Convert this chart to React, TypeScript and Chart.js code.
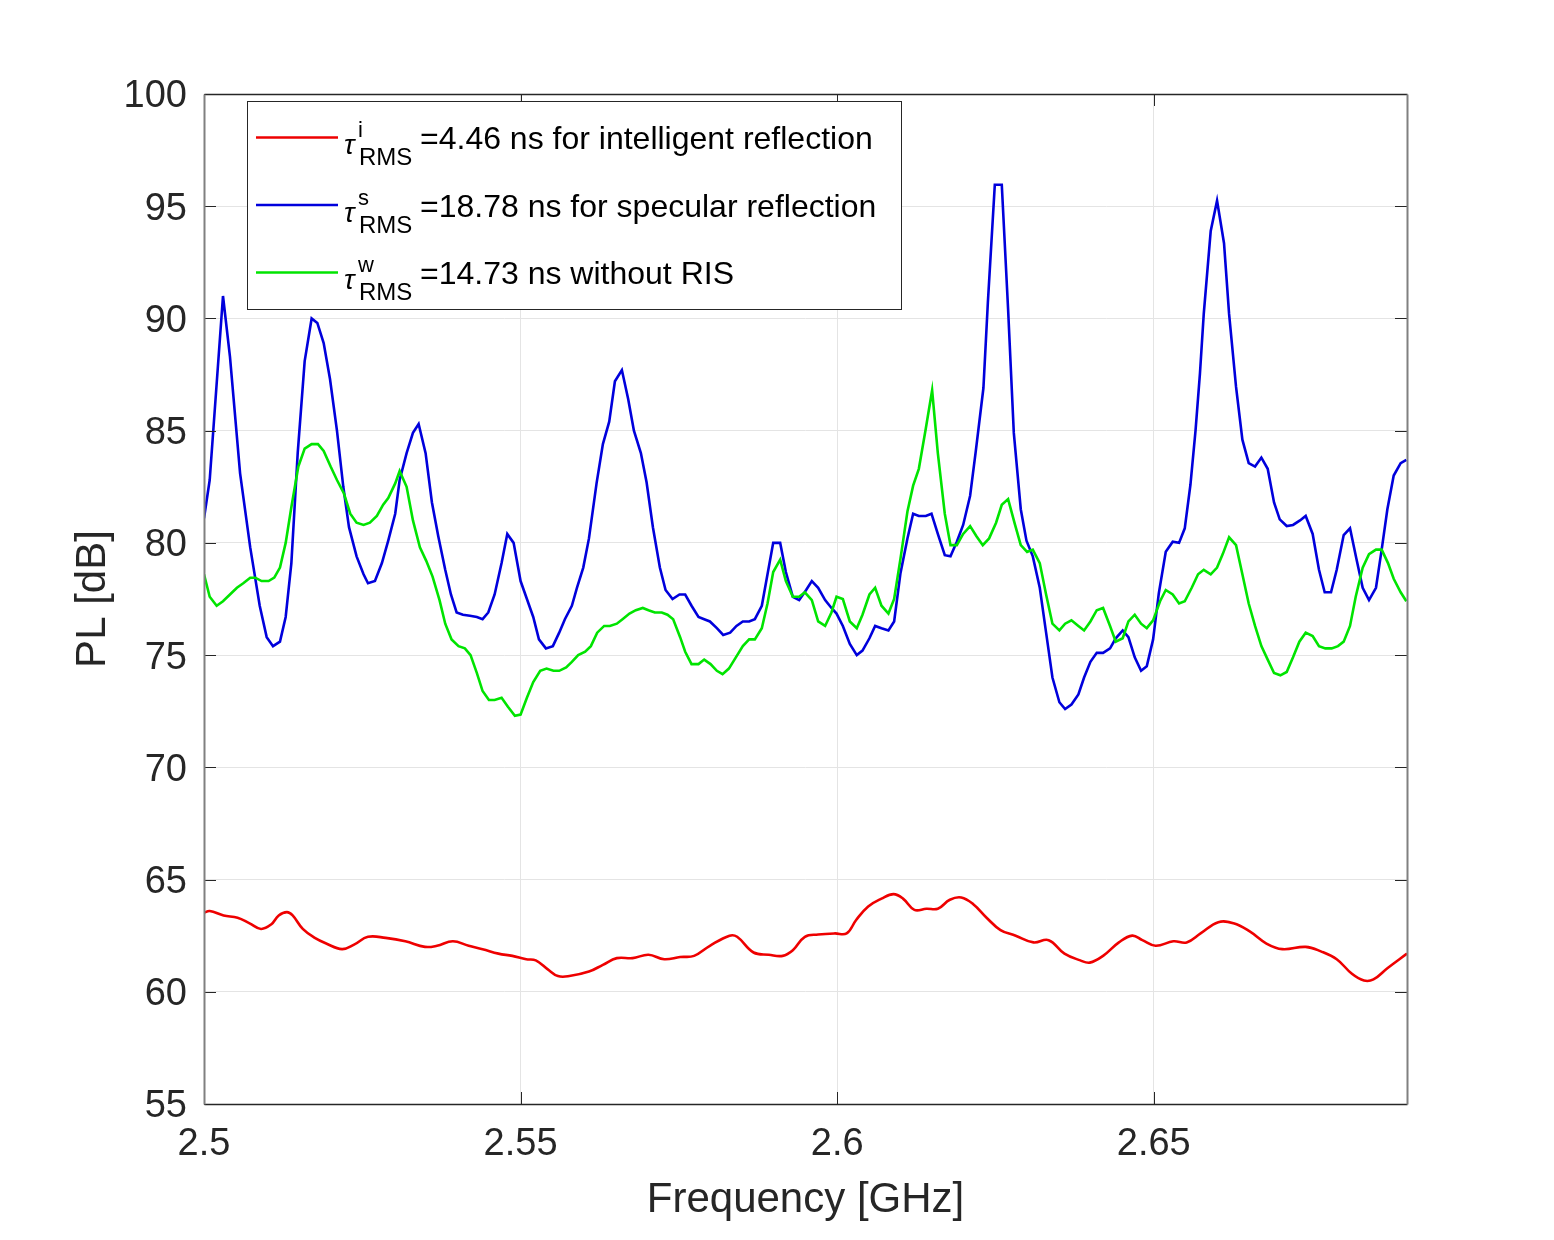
import React, { useEffect, useRef } from 'react';
import { Chart, registerables } from 'chart.js';

Chart.register(...registerables);

// ---------------- data ----------------
const xTickValues = [2.5, 2.55, 2.6, 2.65];
const xTickLabels = ['2.5', '2.55', '2.6', '2.65'];
const yTickValues = [55, 60, 65, 70, 75, 80, 85, 90, 95, 100];
const yTickLabels = ['55', '60', '65', '70', '75', '80', '85', '90', '95', '100'];

const seriesColors = ['#ee0000', '#0000dc', '#00e400'];
const legendSup = ['i', 's', 'w'];
const legendSub = 'RMS';
const legendText = [
  '=4.46 ns for intelligent reflection',
  '=18.78 ns for specular reflection',
  '=14.73 ns without RIS',
];

// intelligent reflection (red)
const redFreq = [
  2.5, 2.5009, 2.5031, 2.5053, 2.5072, 2.509, 2.5106, 2.5118, 2.5131, 2.514, 2.5156, 2.5175, 2.5193,
  2.5218, 2.5237, 2.5259, 2.5287, 2.5318, 2.5349, 2.5368, 2.5393, 2.5418, 2.544, 2.5465, 2.5487,
  2.5509, 2.5524, 2.5543, 2.5559, 2.5577, 2.5608, 2.563, 2.5652, 2.5677, 2.5702, 2.5727, 2.5752,
  2.5774, 2.5799, 2.583, 2.5842, 2.5868, 2.5892, 2.5914, 2.593, 2.5949, 2.597, 2.5996, 2.6015,
  2.603, 2.6049, 2.607, 2.6089, 2.6104, 2.6122, 2.6141, 2.6159, 2.6178, 2.6196, 2.6215, 2.6236,
  2.6258, 2.6282, 2.631, 2.6334, 2.6359, 2.6384, 2.6399, 2.642, 2.6445, 2.6466, 2.6482, 2.6503,
  2.6531, 2.6552, 2.6574, 2.6602, 2.6626, 2.6651, 2.6678, 2.6703, 2.674, 2.6764, 2.6789, 2.6813,
  2.6832, 2.6847, 2.6869, 2.69,
];
const redPL = [
  63.52, 63.6, 63.4, 63.3, 63.05, 62.8, 63.0, 63.4, 63.55, 63.4, 62.8, 62.4, 62.15,
  61.9, 62.1, 62.45, 62.4, 62.25, 62.0, 62.05, 62.25, 62.05, 61.9, 61.7, 61.6,
  61.45, 61.4, 61.0, 60.7, 60.7, 60.9, 61.2, 61.5, 61.5, 61.65, 61.45, 61.55,
  61.6, 62.05, 62.5, 62.45, 61.75, 61.65, 61.6, 61.85, 62.45, 62.55, 62.6, 62.6,
  63.2, 63.8, 64.15, 64.35, 64.15, 63.65, 63.7, 63.7, 64.1, 64.2, 63.9, 63.3,
  62.75, 62.5, 62.2, 62.3, 61.7, 61.4, 61.3, 61.6, 62.2, 62.5, 62.3, 62.05,
  62.25, 62.2, 62.6, 63.1, 63.05, 62.7, 62.15, 61.9, 62.0, 61.8, 61.45, 60.8,
  60.5, 60.55, 61.05, 61.7,
];

// specular reflection (blue)
const blueFreq = [
  2.5, 2.5009, 2.503, 2.5041, 2.5057, 2.5073, 2.5088, 2.5099, 2.5109, 2.512, 2.5129, 2.5138, 2.5148,
  2.5159, 2.517, 2.5179, 2.5189, 2.5199, 2.521, 2.522, 2.5229, 2.5241, 2.5252, 2.5259, 2.527, 2.5281,
  2.5291, 2.5302, 2.5309, 2.532, 2.533, 2.5339, 2.535, 2.536, 2.537, 2.5381, 2.539, 2.5399, 2.5409,
  2.542, 2.5431, 2.544, 2.5449, 2.5459, 2.547, 2.5479, 2.5489, 2.55, 2.551, 2.552, 2.5529, 2.554,
  2.5551, 2.5561, 2.557, 2.5581, 2.5589, 2.5599, 2.5608, 2.562, 2.563, 2.564, 2.5649, 2.566, 2.567,
  2.5679, 2.569, 2.5699, 2.5709, 2.572, 2.5729, 2.574, 2.5751, 2.576, 2.577, 2.5781, 2.579, 2.5799,
  2.581, 2.582, 2.5831, 2.5841, 2.5851, 2.5861, 2.587, 2.5881, 2.589, 2.5899, 2.591, 2.5919, 2.593,
  2.594, 2.5951, 2.596, 2.597, 2.5981, 2.5991, 2.5999, 2.6009, 2.602, 2.6031, 2.604, 2.6051, 2.606,
  2.607, 2.6081, 2.609, 2.61, 2.6111, 2.612, 2.6129, 2.614, 2.6149, 2.6159, 2.617, 2.6179, 2.6189,
  2.6199, 2.621, 2.6219, 2.6231, 2.6238, 2.6249, 2.626, 2.627, 2.6279, 2.629, 2.6299, 2.6309, 2.632,
  2.633, 2.634, 2.6351, 2.636, 2.637, 2.6381, 2.639, 2.64, 2.641, 2.642, 2.6431, 2.644, 2.6451,
  2.646, 2.647, 2.648, 2.6489, 2.6499, 2.6508, 2.6519, 2.653, 2.654, 2.6549, 2.6558, 2.6566, 2.6573,
  2.6579, 2.659, 2.66, 2.6611, 2.6619, 2.663, 2.664, 2.665, 2.666, 2.667, 2.668, 2.669, 2.6699,
  2.671, 2.672, 2.6731, 2.674, 2.6751, 2.6761, 2.677, 2.678, 2.6789, 2.68, 2.681, 2.682, 2.683,
  2.684, 2.6851, 2.686, 2.6869, 2.6879, 2.689, 2.6899,
];
const bluePL = [
  81.1, 82.8, 91.0, 88.3, 83.1, 79.8, 77.2, 75.8, 75.4, 75.6, 76.7, 79.1, 84.0,
  88.1, 90.0, 89.8, 88.9, 87.3, 85.0, 82.5, 80.7, 79.4, 78.6, 78.2, 78.3, 79.1,
  80.1, 81.3, 82.8, 84.0, 84.9, 85.3, 84.0, 81.8, 80.3, 78.8, 77.7, 76.9, 76.8,
  76.75, 76.7, 76.6, 76.9, 77.7, 79.1, 80.4, 80.0, 78.3, 77.5, 76.7, 75.7, 75.3,
  75.4, 76.0, 76.6, 77.2, 78.0, 78.9, 80.2, 82.65, 84.4, 85.4, 87.2, 87.7, 86.4,
  85.0, 84.0, 82.7, 80.7, 78.9, 77.9, 77.5, 77.7, 77.7, 77.2, 76.7, 76.6, 76.5,
  76.2, 75.9, 76.0, 76.3, 76.5, 76.5, 76.6, 77.2, 78.6, 80.0, 80.0, 78.7, 77.6,
  77.45, 77.9, 78.3, 78.0, 77.45, 77.1, 76.85, 76.3, 75.5, 75.0, 75.2, 75.75, 76.3,
  76.2, 76.1, 76.5, 78.65, 80.2, 81.3, 81.2, 81.2, 81.3, 80.4, 79.45, 79.4, 80.05,
  80.8, 82.1, 84.1, 86.9, 90.7, 95.96, 95.96, 90.4, 84.9, 81.5, 80.1, 79.4, 78.0,
  76.0, 74.0, 72.9, 72.6, 72.8, 73.25, 74.0, 74.7, 75.1, 75.1, 75.3, 75.75, 76.1,
  75.8, 74.9, 74.3, 74.5, 75.7, 77.75, 79.6, 80.05, 80.0, 80.65, 82.6, 85.0, 87.55,
  90.2, 93.9, 95.25, 93.35, 90.2, 86.95, 84.6, 83.55, 83.4, 83.8, 83.3, 81.8, 81.05,
  80.75, 80.8, 81.0, 81.2, 80.4, 78.8, 77.8, 77.8, 78.8, 80.35, 80.65, 79.3, 78.0,
  77.45, 78.0, 79.7, 81.5, 83.0, 83.55, 83.7,
];

// without RIS (green)
const greenFreq = [
  2.5, 2.5009, 2.502, 2.503, 2.5041, 2.5052, 2.5062, 2.5073, 2.5081, 2.5091, 2.5102, 2.5111, 2.512,
  2.5129, 2.5138, 2.5149, 2.5159, 2.517, 2.518, 2.5189, 2.52, 2.521, 2.5221, 2.5231, 2.5241, 2.5252,
  2.5262, 2.5273, 2.5283, 2.5291, 2.5302, 2.5309, 2.532, 2.533, 2.5341, 2.5351, 2.5361, 2.5372,
  2.5381, 2.5391, 2.5402, 2.5412, 2.5421, 2.5431, 2.544, 2.545, 2.5459, 2.547, 2.548, 2.5491, 2.55,
  2.551, 2.552, 2.5531, 2.5541, 2.5552, 2.5561, 2.5572, 2.5581, 2.5591, 2.5602, 2.5611, 2.5621,
  2.5632, 2.5641, 2.5652, 2.5661, 2.5672, 2.5682, 2.5693, 2.5702, 2.5712, 2.5723, 2.5732, 2.5741,
  2.5752, 2.576, 2.577, 2.5781, 2.579, 2.58, 2.581, 2.5819, 2.5829, 2.584, 2.5851, 2.5861, 2.587,
  2.5881, 2.589, 2.5899, 2.591, 2.5919, 2.593, 2.594, 2.5949, 2.596, 2.597, 2.5981, 2.5991, 2.5999,
  2.6009, 2.602, 2.6031, 2.604, 2.6051, 2.606, 2.607, 2.6081, 2.609, 2.61, 2.6111, 2.612, 2.6129,
  2.614, 2.615, 2.6159, 2.617, 2.6179, 2.6189, 2.6199, 2.621, 2.622, 2.623, 2.624, 2.6251, 2.626,
  2.627, 2.6281, 2.629, 2.63, 2.6309, 2.632, 2.633, 2.634, 2.6351, 2.636, 2.637, 2.6381, 2.639,
  2.64, 2.641, 2.642, 2.6431, 2.644, 2.6451, 2.646, 2.647, 2.648, 2.6489, 2.6499, 2.651, 2.6519,
  2.653, 2.654, 2.6549, 2.656, 2.657, 2.6579, 2.659, 2.66, 2.6609, 2.6619, 2.663, 2.664, 2.665,
  2.666, 2.667, 2.668, 2.669, 2.67, 2.671, 2.672, 2.673, 2.674, 2.6751, 2.6761, 2.6771, 2.6781,
  2.6791, 2.68, 2.681, 2.6819, 2.683, 2.684, 2.6851, 2.686, 2.687, 2.6879, 2.689, 2.6899,
];
const greenPL = [
  78.6, 77.6, 77.2, 77.4, 77.7, 78.0, 78.2, 78.45, 78.45, 78.3, 78.3, 78.45, 78.9,
  80.0, 81.6, 83.4, 84.2, 84.4, 84.4, 84.1, 83.4, 82.8, 82.2, 81.3, 80.9, 80.8,
  80.9, 81.2, 81.7, 82.0, 82.65, 83.2, 82.5, 81.0, 79.8, 79.2, 78.5, 77.45,
  76.4, 75.7, 75.4, 75.3, 75.0, 74.2, 73.4, 73.0, 73.0, 73.1, 72.7, 72.3, 72.35,
  73.1, 73.8, 74.3, 74.4, 74.3, 74.3, 74.45, 74.7, 75.0, 75.15, 75.4, 76.0,
  76.3, 76.3, 76.4, 76.6, 76.85, 77.0, 77.1, 77.0, 76.9, 76.9, 76.8, 76.6,
  75.8, 75.15, 74.6, 74.6, 74.8, 74.6, 74.3, 74.15, 74.4, 74.9, 75.4, 75.7, 75.7,
  76.2, 77.3, 78.7, 79.25, 78.3, 77.6, 77.6, 77.8, 77.45, 76.5, 76.3, 76.9, 77.6,
  77.5, 76.5, 76.2, 76.8, 77.7, 78.0, 77.2, 76.85, 77.5, 79.3, 81.4, 82.55, 83.3,
  85.1, 86.8, 84.0, 81.3, 79.9, 79.9, 80.4, 80.75, 80.3, 79.9, 80.2, 80.9, 81.7,
  81.95, 80.8, 79.9, 79.6, 79.7, 79.1, 77.7, 76.4, 76.1, 76.4, 76.55, 76.3, 76.1,
  76.5, 77.0, 77.1, 76.3, 75.6, 75.75, 76.5, 76.8, 76.4, 76.2, 76.55, 77.4, 77.9,
  77.7, 77.3, 77.4, 78.0, 78.6, 78.8, 78.6, 78.9, 79.5, 80.25, 79.9, 78.6, 77.3,
  76.3, 75.4, 74.8, 74.2, 74.1, 74.25, 74.9, 75.6, 76.0, 75.85, 75.4, 75.3, 75.3,
  75.4, 75.6, 76.3, 77.6, 78.9, 79.5, 79.7, 79.7, 79.1, 78.4, 77.8, 77.4,
];

// ---------------- rendering ----------------
const FONT = '"Liberation Sans", Arial, Helvetica, sans-serif';
const AXIS_COLOR = '#262626';

const toPoints = (xs: number[], ys: number[]) => xs.map((x, i) => ({ x, y: ys[i] }));

const framePlugin = {
  id: 'matlabFrame',
  afterDatasetsDraw(chart: any) {
    const { ctx, chartArea: a, scales } = chart;
    const tl = 12;
    ctx.save();
    ctx.lineWidth = 1;
    ctx.strokeStyle = AXIS_COLOR;
    ctx.beginPath();
    yTickValues.forEach((v) => {
      const y = Math.round(scales.y.getPixelForValue(v)) + 0.5;
      ctx.moveTo(a.left, y);
      ctx.lineTo(a.left + tl, y);
      ctx.moveTo(a.right, y);
      ctx.lineTo(a.right - tl, y);
    });
    xTickValues.forEach((v) => {
      const x = Math.round(scales.x.getPixelForValue(v)) + 0.5;
      ctx.moveTo(x, a.bottom);
      ctx.lineTo(x, a.bottom - tl);
      ctx.moveTo(x, a.top);
      ctx.lineTo(x, a.top + tl);
    });
    ctx.stroke();
    const L = Math.round(a.left) + 0.5;
    const R = Math.round(a.right) + 0.5;
    const T = Math.round(a.top) + 0.5;
    const B = Math.round(a.bottom) + 0.5;
    ctx.lineWidth = 1.5;
    ctx.strokeStyle = AXIS_COLOR;
    ctx.beginPath();
    ctx.moveTo(L, T);
    ctx.lineTo(R, T);
    ctx.moveTo(L, B);
    ctx.lineTo(R, B);
    ctx.stroke();
    ctx.strokeStyle = '#808080';
    ctx.lineWidth = 2;
    ctx.beginPath();
    ctx.moveTo(L, T);
    ctx.lineTo(L, B);
    ctx.moveTo(R, T);
    ctx.lineTo(R, B);
    ctx.stroke();
    ctx.restore();
  },
};

const legendPlugin = {
  id: 'matlabLegend',
  afterDraw(chart: any) {
    const { ctx } = chart;
    ctx.save();
    const bx = 247.5, by = 101.5, bw = 654, bh = 208;
    ctx.fillStyle = '#ffffff';
    ctx.fillRect(bx, by, bw, bh);
    ctx.strokeStyle = AXIS_COLOR;
    ctx.lineWidth = 1;
    ctx.strokeRect(bx, by, bw, bh);
    ctx.textBaseline = 'alphabetic';
    ctx.textAlign = 'left';
    for (let i = 0; i < legendText.length; i++) {
      const dy = i * 67.5;
      ctx.strokeStyle = seriesColors[i];
      ctx.lineWidth = 2.6;
      ctx.beginPath();
      ctx.moveTo(256, 137.5 + dy);
      ctx.lineTo(338, 137.5 + dy);
      ctx.stroke();
      ctx.fillStyle = '#000000';
      ctx.font = `italic 28px ${FONT}`;
      ctx.fillText('\u03c4', 344, 154 + dy);
      ctx.font = `22px ${FONT}`;
      ctx.fillText(legendSup[i], 358, 137 + dy);
      ctx.font = `24px ${FONT}`;
      ctx.fillText(legendSub, 359, 165 + dy);
      ctx.font = `32px ${FONT}`;
      ctx.fillText(legendText[i], 420, 149 + dy);
    }
    ctx.restore();
  },
};

const bgPlugin = {
  id: 'whiteBg',
  beforeDraw(chart: any) {
    const { ctx, width, height } = chart;
    ctx.save();
    ctx.fillStyle = '#ffffff';
    ctx.fillRect(0, 0, width, height);
    ctx.restore();
  },
};

export default function App() {
  const ref = useRef<HTMLCanvasElement | null>(null);

  useEffect(() => {
    if (!ref.current) return;
    const lineCommon = {
      pointRadius: 0,
      pointHoverRadius: 0,
      borderWidth: 2.6,
      fill: false,
    };
    const chart = new Chart(ref.current, {
      type: 'line',
      data: {
        datasets: [
          {
            ...lineCommon,
            label: 'intelligent reflection',
            data: toPoints(redFreq, redPL),
            borderColor: seriesColors[0],
            tension: 0.4,
            order: 2,
          },
          {
            ...lineCommon,
            label: 'specular reflection',
            data: toPoints(blueFreq, bluePL),
            borderColor: seriesColors[1],
            tension: 0,
            order: 1,
          },
          {
            ...lineCommon,
            label: 'without RIS',
            data: toPoints(greenFreq, greenPL),
            borderColor: seriesColors[2],
            tension: 0,
            order: 0,
          },
        ],
      },
      options: {
        animation: false,
        responsive: false,
        devicePixelRatio: 1,
        events: [],
        layout: { padding: { top: 94, right: 147, bottom: 0, left: 0 } },
        plugins: {
          legend: { display: false },
          tooltip: { enabled: false },
          title: { display: false },
        },
        scales: {
          x: {
            type: 'linear',
            min: 2.5,
            max: 2.69,
            afterBuildTicks: (s: any) => {
              s.ticks = xTickValues.map((v) => ({ value: v }));
            },
            afterFit: (s: any) => {
              s.height = 136;
            },
            ticks: {
              autoSkip: false,
              maxRotation: 0,
              padding: 18,
              color: AXIS_COLOR,
              font: { family: FONT, size: 38 },
              callback: (_v: any, i: number) => xTickLabels[i],
            },
            grid: { color: '#e4e4e4', lineWidth: 1, drawTicks: false },
            border: { display: false },
            title: {
              display: true,
              text: 'Frequency [GHz]',
              color: AXIS_COLOR,
              font: { family: FONT, size: 42 },
              padding: { top: 0, bottom: 14 },
            },
          },
          y: {
            type: 'linear',
            min: 55,
            max: 100,
            afterBuildTicks: (s: any) => {
              s.ticks = yTickValues.map((v) => ({ value: v }));
            },
            afterFit: (s: any) => {
              s.width = 204;
            },
            ticks: {
              autoSkip: false,
              padding: 17,
              labelOffset: 3,
              color: AXIS_COLOR,
              font: { family: FONT, size: 38 },
              callback: (_v: any, i: number) => yTickLabels[i],
            },
            grid: { color: '#e4e4e4', lineWidth: 1, drawTicks: false },
            border: { display: false },
            title: {
              display: true,
              text: 'PL [dB]',
              color: AXIS_COLOR,
              font: { family: FONT, size: 42 },
              padding: { top: 68, bottom: 0 },
            },
          },
        },
      },
      plugins: [bgPlugin, framePlugin, legendPlugin],
    } as any);
    return () => chart.destroy();
  }, []);

  return (
    <div style={{ position: 'absolute', left: 0, top: 0, width: 1554, height: 1240, background: '#fff' }}>
      <canvas ref={ref} width={1554} height={1240} style={{ display: 'block', width: 1554, height: 1240 }} />
    </div>
  );
}
